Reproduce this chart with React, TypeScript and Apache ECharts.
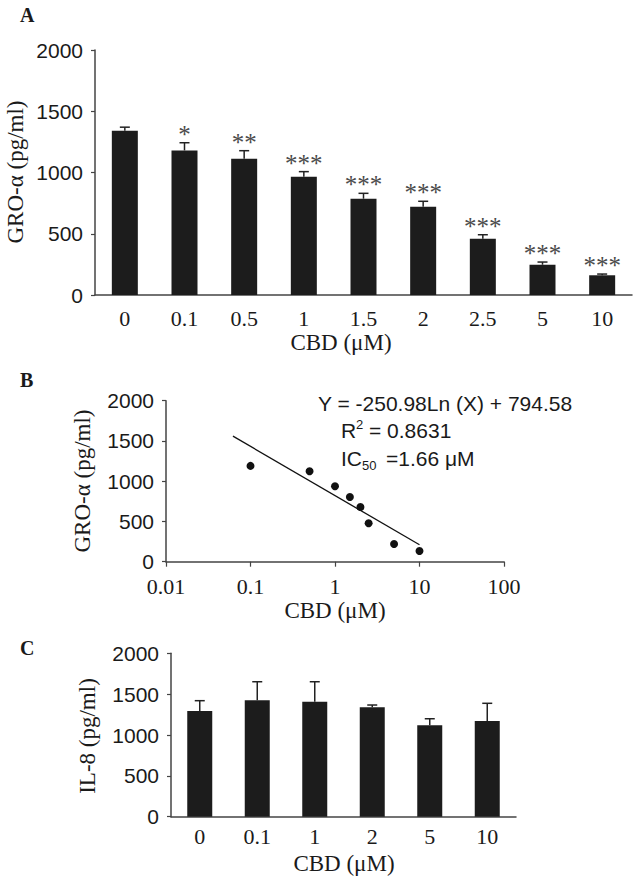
import React, { useEffect, useRef } from "react";
import * as echarts from "echarts";

// Panel A: GRO-α by CBD concentration
const aCats = ["0", "0.1", "0.5", "1", "1.5", "2", "2.5", "5", "10"];
const aMeans = [1340, 1180, 1113, 966, 786, 721, 460, 247, 161];
const aErrs = [30, 63, 65, 41, 44, 44, 32, 22, 10];
const aStars = ["", "*", "**", "***", "***", "***", "***", "***", "***"];

// Panel B: log-dose scatter + trend line
const bX = [0.1, 0.5, 1, 1.5, 2, 2.5, 5, 10];
const bY = [1190, 1123, 937, 804, 680, 477, 220, 133];
const trendX = [0.062, 10];
const trendY = [1560, 210];

// Panel C: IL-8
const cCats = ["0", "0.1", "1", "2", "5", "10"];
const cMeans = [1294, 1425, 1408, 1339, 1119, 1171];
const cErrs = [126, 227, 244, 28, 80, 217];

const SANS = "Liberation Sans";
const SERIF = "Liberation Serif";
const INK = "#1a1a1a";
const AXIS = "#444";

function errSeries(xAxisIndex: number, yAxisIndex: number, means: number[], errs: number[], stars: string[] | null) {
  return {
    type: "custom",
    xAxisIndex,
    yAxisIndex,
    z: 5,
    data: means.map((m, i) => [i, m, errs[i]]),
    renderItem: (params: any, api: any) => {
      const i = api.value(0);
      const m = api.value(1);
      const e = api.value(2);
      const p0 = api.coord([i, m]);
      const p1 = api.coord([i, m + e]);
      const cap = 5;
      const children: any[] = [
        { type: "line", shape: { x1: p0[0], y1: p0[1], x2: p1[0], y2: p1[1] }, style: { stroke: "#222", lineWidth: 1.5 } },
        { type: "line", shape: { x1: p1[0] - cap, y1: p1[1], x2: p1[0] + cap, y2: p1[1] }, style: { stroke: "#222", lineWidth: 1.5 } },
      ];
      if (stars && stars[params.dataIndex]) {
        children.push({
          type: "text",
          x: p1[0],
          y: p1[1] + 4,
          style: {
            text: stars[params.dataIndex],
            font: `25px ${SERIF}`,
            fill: "#4a4a4a",
            textAlign: "center",
            textVerticalAlign: "bottom",
          },
        });
      }
      return { type: "group", children };
    },
  };
}

function valueAxis(gridIndex: number) {
  return {
    type: "value",
    gridIndex,
    min: 0,
    max: 2000,
    interval: 500,
    splitLine: { show: false },
    axisLine: { show: true, lineStyle: { color: AXIS, width: 1.5 } },
    axisTick: { show: true, length: 4, lineStyle: { color: AXIS, width: 1.2 } },
    axisLabel: {
      margin: 12,
      color: INK,
      fontFamily: SANS,
      fontSize: 21,
      formatter: (v: number) => String(v),
    },
  };
}

function catAxis(gridIndex: number, data: string[], margin: number) {
  return {
    type: "category",
    gridIndex,
    data,
    axisLine: { show: true, lineStyle: { color: AXIS, width: 1.5 } },
    axisTick: { show: false },
    axisLabel: { margin, color: INK, fontFamily: SERIF, fontSize: 22 },
  };
}

function txt(text: string, x: number, y: number, font: string, opts: any = {}) {
  return {
    type: "text",
    x,
    y,
    rotation: opts.rotation || 0,
    style: {
      text,
      font,
      fill: INK,
      textAlign: opts.align || "center",
      textVerticalAlign: "middle",
    },
  };
}

export default function App() {
  const ref = useRef<HTMLDivElement>(null);
  useEffect(() => {
    const chart = echarts.init(ref.current!, null, { renderer: "svg" });
    chart.setOption({
      animation: false,
      backgroundColor: "#ffffff",
      grid: [
        { left: 95, top: 50, width: 537, height: 245 },
        { left: 166, top: 400.7, width: 338, height: 161 },
        { left: 171, top: 653.3, width: 345, height: 163.4 },
      ],
      xAxis: [
        catAxis(0, aCats, 12),
        {
          type: "log",
          gridIndex: 1,
          logBase: 10,
          min: 0.01,
          max: 100,
          splitLine: { show: false },
          minorTick: { show: false },
          axisLine: { show: true, lineStyle: { color: AXIS, width: 1.5 } },
          axisTick: { show: true, length: 5, lineStyle: { color: AXIS, width: 1.2 } },
          axisLabel: {
            margin: 14,
            color: INK,
            fontFamily: SERIF,
            fontSize: 22,
            formatter: (v: number) => String(+Number(v).toPrecision(2)),
          },
        },
        catAxis(2, cCats, 9),
      ],
      yAxis: [valueAxis(0), valueAxis(1), valueAxis(2)],
      series: [
        {
          type: "bar",
          xAxisIndex: 0,
          yAxisIndex: 0,
          data: aMeans,
          barWidth: 26,
          itemStyle: { color: "#1c1c1c" },
        },
        errSeries(0, 0, aMeans, aErrs, aStars),
        {
          type: "scatter",
          xAxisIndex: 1,
          yAxisIndex: 1,
          data: bX.map((x, i) => [x, bY[i]]),
          symbolSize: 8,
          itemStyle: { color: "#111", opacity: 1 },
        },
        {
          type: "line",
          xAxisIndex: 1,
          yAxisIndex: 1,
          data: trendX.map((x, i) => [x, trendY[i]]),
          showSymbol: false,
          lineStyle: { color: "#111", width: 1.3 },
        },
        {
          type: "bar",
          xAxisIndex: 2,
          yAxisIndex: 2,
          data: cMeans,
          barWidth: 25,
          itemStyle: { color: "#1c1c1c" },
        },
        errSeries(2, 2, cMeans, cErrs, null),
      ],
      graphic: [
        txt("A", 20, 15, `bold 20px ${SERIF}`, { align: "left" }),
        txt("B", 20, 380, `bold 20px ${SERIF}`, { align: "left" }),
        txt("C", 20, 648, `bold 20px ${SERIF}`, { align: "left" }),
        txt("GRO-α (pg/ml)", 15, 172, `23px ${SERIF}`, { rotation: Math.PI / 2 }),
        txt("CBD (μM)", 341, 342, `23px ${SERIF}`),
        txt("GRO-α (pg/ml)", 82, 481, `23px ${SERIF}`, { rotation: Math.PI / 2 }),
        txt("CBD (μM)", 335, 610, `23px ${SERIF}`),
        txt("IL-8 (pg/ml)", 87, 736, `23px ${SERIF}`, { rotation: Math.PI / 2 }),
        txt("CBD (μM)", 344, 863, `23px ${SERIF}`),
        txt("Y = -250.98Ln (X) + 794.58", 318, 403, `21px ${SANS}`, { align: "left" }),
        txt("R", 341, 430, `21px ${SANS}`, { align: "left" }),
        txt("2", 356, 424, `13px ${SANS}`, { align: "left" }),
        txt("= 0.8631", 369, 430, `21px ${SANS}`, { align: "left" }),
        txt("IC", 341, 458, `21px ${SANS}`, { align: "left" }),
        txt("50", 362, 465, `13px ${SANS}`, { align: "left" }),
        txt("=1.66 μM", 386, 458, `21px ${SANS}`, { align: "left" }),
      ],
    });
    return () => chart.dispose();
  }, []);
  return (
    <div
      ref={ref}
      style={{ position: "absolute", left: 0, top: 0, width: 633, height: 877, background: "#fff" }}
    />
  );
}
